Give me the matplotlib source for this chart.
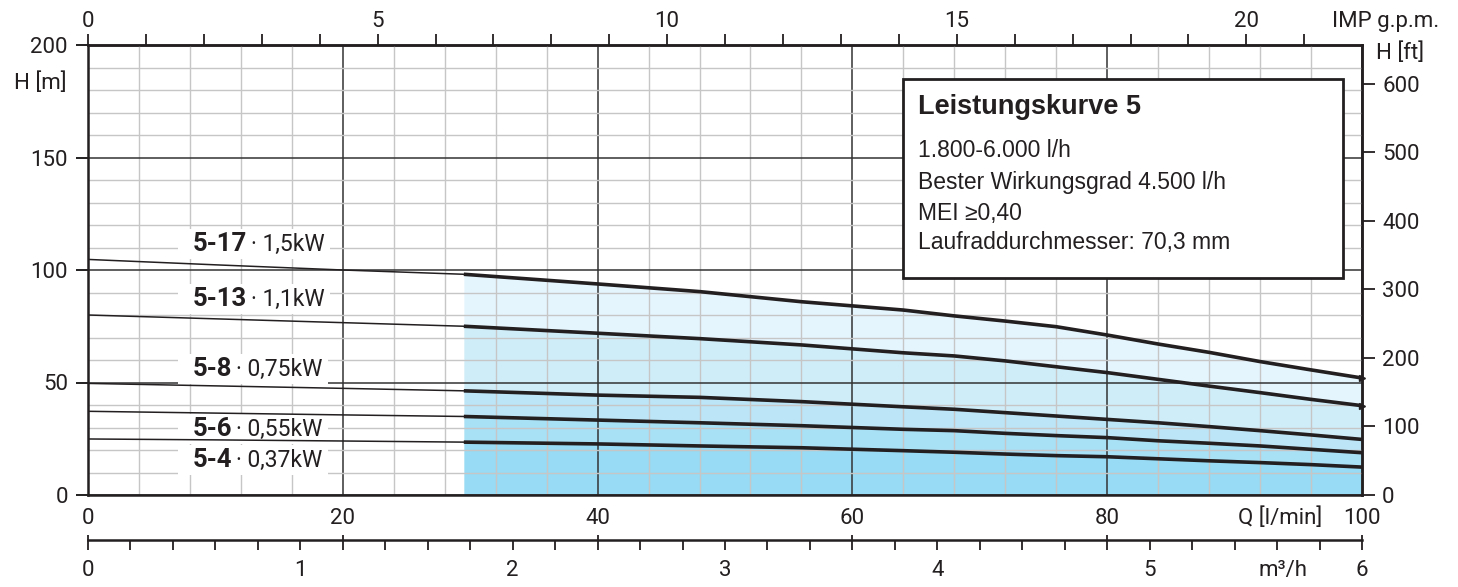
import numpy as np
import matplotlib
matplotlib.use('Agg')
import matplotlib.pyplot as plt
from matplotlib import font_manager
from matplotlib.patches import Rectangle

# flow [l/min] and head [m]
q = [0, 10, 20, 29.5, 40, 48, 56, 64, 68, 72, 76, 80, 84, 88, 92, 96, 100]
h_5_17 = [104.7, 102.3, 100.0, 98.1, 93.8, 90.4, 85.9, 82.2, 79.6, 77.3, 74.8, 71.1, 67.1, 63.4, 59.3, 55.6, 52.0]
h_5_13 = [80.0, 78.3, 76.6, 75.0, 71.9, 69.5, 66.7, 63.2, 61.8, 59.6, 57.0, 54.4, 51.4, 48.4, 45.5, 42.5, 39.7]
h_5_8 = [49.6, 48.5, 47.4, 46.3, 44.4, 43.4, 41.5, 39.2, 38.1, 36.6, 35.1, 33.6, 32.1, 30.4, 28.6, 26.7, 24.7]
h_5_6 = [37.2, 36.4, 35.6, 34.9, 33.3, 32.1, 30.8, 29.2, 28.6, 27.4, 26.4, 25.5, 24.1, 23.0, 21.8, 20.3, 18.8]
h_5_4 = [24.9, 24.5, 24.0, 23.5, 22.7, 21.8, 21.0, 19.7, 19.0, 18.2, 17.5, 17.0, 16.1, 15.2, 14.4, 13.5, 12.4]
q_min = 29.5  # start of working range

models = ['5-17', '5-13', '5-8', '5-6', '5-4']
powers = ['1,5kW', '1,1kW', '0,75kW', '0,55kW', '0,37kW']
label_y = [112.6, 88.1, 57.0, 30.4, 16.4]
fills = ['#e4f5fd', '#cfedf9', '#bce6f7', '#a8e0f6', '#97dbf4']

box_title = 'Leistungskurve 5'
box_lines = ['1.800-6.000 l/h', 'Bester Wirkungsgrad 4.500 l/h', 'MEI \u22650,40',
             'Laufraddurchmesser: 70,3 mm']

LPM_PER_GPM = 4.54609
FT_PER_M = 3.28084
LPM_PER_M3H = 1000 / 60

plt.rcParams['font.family'] = ['Roboto', 'DejaVu Sans']
dark = '#231f20'

names = {f.name for f in font_manager.fontManager.ttflist}
if 'Liberation Sans Narrow' in names:
    box_font = ['Liberation Sans Narrow', 'DejaVu Sans']
    title_size, body_size = 24, 20
else:
    box_font = ['Liberation Sans', 'DejaVu Sans']
    title_size, body_size = 19.5, 16.5

fig = plt.figure(figsize=(14.58, 5.87), dpi=100)
L, B, W, H = 88 / 1458, 1 - 495 / 587, 1274 / 1458, 450 / 587
ax = fig.add_axes([L, B, W, H])
ax.set_xlim(0, 100)
ax.set_ylim(0, 200)

# grid
ax.set_xticks(np.arange(0, 101, 20))
ax.set_xticks(np.arange(0, 101, 4), minor=True)
ax.set_yticks(np.arange(0, 201, 50))
ax.set_yticks(np.arange(0, 201, 10), minor=True)
ax.set_axisbelow(True)
ax.grid(which='minor', color='#c6c6c6', lw=1.0)
ax.grid(which='major', color='#333333', lw=1.1)

curves = [h_5_17, h_5_13, h_5_8, h_5_6, h_5_4]
qa = np.array(q)
sel = qa >= q_min
for i, hc in enumerate(curves):
    hc = np.array(hc)
    lower = np.array(curves[i + 1])[sel] if i + 1 < len(curves) else np.zeros(sel.sum())
    ax.fill_between(qa[sel], lower, hc[sel], color=fills[i], lw=0, zorder=0.3)
for i, hc in enumerate(curves):
    hc = np.array(hc)
    thin = qa <= q_min
    ax.plot(qa[thin], hc[thin], color=dark, lw=1.1, zorder=2)
    ax.plot(qa[sel], hc[sel], color=dark, lw=2.6, zorder=2, solid_capstyle='butt')
    if i < 2:
        ax.plot(qa[-1], hc[-1], marker='>', ms=4, color=dark, zorder=2, clip_on=False)

for sp in ax.spines.values():
    sp.set_linewidth(1.8)
    sp.set_color(dark)
ax.tick_params(axis='y', which='major', direction='out', length=8.5, width=1.4,
               pad=6, labelsize=16, colors=dark)
ax.tick_params(axis='x', which='major', length=0, pad=9, labelsize=16, colors=dark)
ax.tick_params(which='minor', length=0)
ax.annotate('Q [l/min]', xy=(93.6, 0), xycoords=('data', 'axes fraction'),
            xytext=(0, -9), textcoords='offset points', ha='center', va='top',
            fontsize=16, color=dark)

# top: IMP g.p.m.
secx = ax.secondary_xaxis('top', functions=(lambda x: x / LPM_PER_GPM, lambda g: g * LPM_PER_GPM))
secx.set_xticks(np.arange(0, 23))
secx.set_xticklabels([str(g) if g % 5 == 0 else '' for g in range(23)])
secx.tick_params(direction='out', length=8, width=1.3, pad=1, labelsize=16, colors=dark)
secx.spines['top'].set_linewidth(1.8)
secx.spines['top'].set_color(dark)

# right: H [ft]
secy = ax.secondary_yaxis('right', functions=(lambda m: m * FT_PER_M, lambda f: f / FT_PER_M))
secy.set_yticks(np.arange(0, 700, 100))
secy.tick_params(direction='out', length=9.5, width=1.3, pad=5, labelsize=16, colors=dark)
secy.spines['right'].set_linewidth(1.8)
secy.spines['right'].set_color(dark)

fig.text(67 / 1458, 1 - 83 / 587, 'H [m]', ha='right', va='center', fontsize=16, color=dark)
fig.text(1376 / 1458, 1 - 53 / 587, 'H [ft]', ha='left', va='center', fontsize=16, color=dark)
fig.text(1386 / 1458, 1 - 21 / 587, 'IMP g.p.m.', ha='center', va='center', fontsize=16, color=dark)

# bottom: m3/h
ax3 = fig.add_axes([L, 1 - 540 / 587, W, 0.0001])
ax3.set_xlim(0, 6)
ax3.patch.set_visible(False)
for k in ['top', 'left', 'right']:
    ax3.spines[k].set_visible(False)
ax3.spines['bottom'].set_linewidth(1.8)
ax3.spines['bottom'].set_color(dark)
ax3.set_yticks([])
ax3.set_xticks(np.arange(0, 7))
ax3.set_xticks(np.arange(0, 6.01, 0.2), minor=True)
ax3.tick_params(axis='x', which='both', direction='out', length=7.5, width=1.3,
                pad=7, labelsize=16, colors=dark)
ax3t = ax3.secondary_xaxis('top', functions=(lambda m: m * LPM_PER_M3H, lambda l: l / LPM_PER_M3H))
ax3t.set_xticks(np.arange(0, 101, 20))
ax3t.set_xticklabels([])
ax3t.tick_params(direction='out', length=3.5, width=1.3, colors=dark)
ax3t.spines['top'].set_visible(False)
ax3.annotate('m\u00b3/h', xy=(5.63, 0), xycoords=('data', 'axes fraction'),
             xytext=(0, -14.5), textcoords='offset points', ha='center', va='top',
             fontsize=16, color=dark)

# curve labels: bold model + power, white patch behind both
px_per_m = H * 587 / 200
base_shift = 18.5 * 0.711 * 100 / 72 / 2 / px_per_m  # half cap height in m
pairs = []
for m, y in zip(models, label_y):
    t = ax.text(8.2, y - base_shift, m, fontsize=18.5, fontweight='bold', va='baseline',
                ha='left', color=dark, zorder=3)
    pairs.append(t)
fig.canvas.draw()
r = fig.canvas.get_renderer()
inv = ax.transData.inverted()
for t, p, y in zip(pairs, powers, label_y):
    bb = t.get_window_extent(r)
    x_end = inv.transform((bb.x1 + 4, 0))[0]
    t2 = ax.text(x_end, y - base_shift, '\u00b7 ' + p, fontsize=16.5, va='baseline',
                 ha='left', color=dark, zorder=3)
    bb2 = t2.get_window_extent(r)
    (x0, y0) = inv.transform((bb.x0 - 14, bb.y0 - 3))
    (x1, y1) = inv.transform((bb2.x1 + 6, bb.y1 + 3))
    ax.add_patch(Rectangle((x0, y0), x1 - x0, y1 - y0, fc='white', ec='none', zorder=1.5))

# info box
ax.add_patch(Rectangle((64.0, 96.4), 34.5, 88.5, fc='white', ec=dark, lw=2, zorder=4))
ax.text(65.15, 172.4, box_title, family=box_font, fontsize=title_size, fontweight='bold',
        va='center', ha='left', color=dark, zorder=5)
for s, y in zip(box_lines, [152.9, 139.1, 125.3, 112.0]):
    ax.text(65.15, y, s, family=box_font, fontsize=body_size, va='center', ha='left',
            color=dark, zorder=5)

fig.savefig('out.png', dpi=100)
